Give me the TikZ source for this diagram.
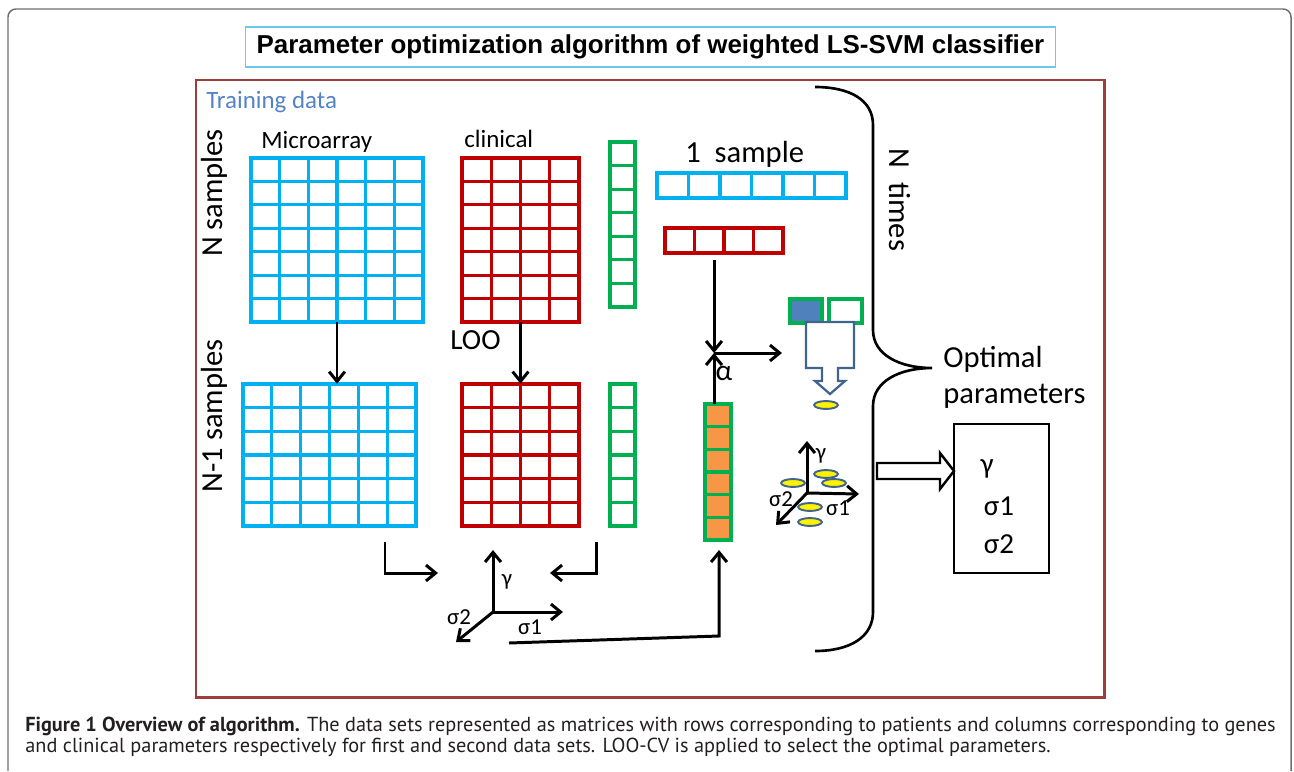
\documentclass[tikz,border=0pt]{standalone}
\usepackage{fontspec}
\setmainfont{Carlito}
\newfontfamily\titlefont{Liberation Sans}
\newfontfamily\capfont{PT Sans}
\usetikzlibrary{arrows.meta,fit,positioning,shapes.geometric}

\definecolor{frameGrey}{RGB}{110,110,110}
\definecolor{frameRed}{RGB}{158,62,60}
\definecolor{titleCyan}{RGB}{110,200,236}
\definecolor{matCyan}{RGB}{0,176,240}
\definecolor{matRed}{RGB}{192,0,0}
\definecolor{matGreen}{RGB}{0,176,80}
\definecolor{txtBlue}{RGB}{84,130,200}
\definecolor{cellBlue}{RGB}{79,129,189}
\definecolor{cellOrange}{RGB}{247,150,70}
\definecolor{edgeBlue}{RGB}{65,100,143}
\definecolor{capInk}{RGB}{35,31,32}

% name, colour, x0, y0, x1, y1, columns, rows
\newcommand{\matgrid}[8]{%
  \foreach \i in {0,...,#7}
    \draw[#2, gridline] ({#3+\i*(#5-#3)/#7},#4) -- ({#3+\i*(#5-#3)/#7},#6);
  \foreach \j in {0,...,#8}
    \draw[#2, gridline] (#3,{#4+\j*(#6-#4)/#8}) -- (#5,{#4+\j*(#6-#4)/#8});
  \node[fit={(#3,#4)(#5,#6)}, inner sep=0pt] (#1) {};
}

\begin{document}
\begin{tikzpicture}[x=0.02cm, y=-0.02cm,
  gridline/.style={line width=1.8pt, line cap=rect},
  arr/.style={line width=1.7pt, -{Straight Barb[length=5.5pt,width=9pt]}},
  big/.style={inner sep=0pt, font=\fontsize{17.4}{21}\selectfont},
  head/.style={inner sep=0pt, font=\fontsize{14.2}{17}\selectfont},
  axlbl/.style={inner sep=0pt, font=\fontsize{13}{15}\selectfont},
  dot/.style={ellipse, draw=edgeBlue, fill=yellow, line width=1.1pt,
    minimum width=13.5pt, minimum height=4.5pt, inner sep=0pt}]
\useasboundingbox (0,0) rectangle (1294,771);
\draw[frameGrey, line width=0.85pt, rounded corners=4.5pt] (8,771) -- (8,9) -- (1291,9) -- (1291,771);

\node[draw=titleCyan, line width=0.7pt, minimum width=460.9pt, minimum height=22.7pt,
  font=\titlefont\bfseries\fontsize{14.75}{17}\selectfont] (title) at (650.5,47) {Parameter optimization algorithm of weighted LS-SVM classifier};
\draw[frameRed, line width=1.7pt] (196,80) rectangle (1104,697);

\node[head, anchor=base west, text=txtBlue] (train) at (206,108) {Training data};
\node[head, anchor=base west] (micro) at (261,148) {Microarray};
\node[head, anchor=base west] (clin) at (464,147) {clinical};
\node[big, rotate=90] (nsamp) at (214,193) {N samples};
\node[big, rotate=90] (n1samp) at (214,416) {N-1 samples};
\node[big, anchor=base west, font=\fontsize{16.6}{20}\selectfont] (loo) at (450,349) {LOO};

\matgrid{maTop}{matCyan}{251}{158}{423}{322}{6}{7}
\matgrid{clTop}{matRed}{462}{158}{579}{322}{4}{7}
\matgrid{grTop}{matGreen}{610}{142}{635}{307}{1}{7}
\matgrid{maBot}{matCyan}{243}{384}{416}{526}{6}{6}
\matgrid{clBot}{matRed}{462}{384}{579}{526}{4}{6}
\matgrid{grBot}{matGreen}{610}{384}{635}{526}{1}{6}

\draw[arr] (maTop.south) -- (maTop.south |- maBot.north);
\draw[arr] (clTop.south) -- (clTop.south |- clBot.north);

\node[big, anchor=base west] (one) at (685,162) {1~~sample};
\matgrid{rowCyan}{matCyan}{657}{173}{846}{198}{6}{1}
\matgrid{rowRed}{matRed}{665}{228}{783}{253}{4}{1}
\fill[cellOrange] (705,404) rectangle (731,540);
\matgrid{alphaCol}{matGreen}{705}{404}{731}{540}{1}{6}

\coordinate (meet) at (714,353);
\coordinate (pick) at (782,353);
\draw[arr, shorten <=4pt] (rowRed.south -| meet) -- (meet);
\draw[arr] (alphaCol.north -| meet) -- (meet);
\draw[arr] (meet) -- (pick);
\node[big, font=\fontsize{16.7}{20}\selectfont] (alpha) at (724,373) {α};

\fill[cellBlue] (790,299) rectangle (822,323);
\matgrid{selA}{matGreen}{790}{299}{822}{323}{1}{1}
\matgrid{selB}{matGreen}{829}{299}{862}{323}{1}{1}
\filldraw[edgeBlue, fill=white, line width=1.3pt] (806,322) -- (854,322) -- (854,368) -- (838,368) -- (838,381)
  -- (845,381) -- (830,394) -- (815,381) -- (822,381) -- (822,368) -- (806,368) -- cycle;
\node[dot] (d0) at (826,405) {};

\draw[black, line width=1.5pt] (815,87) .. controls (850,87) and (873,100) .. (873,125) -- (873,330)
  .. controls (873,355) and (900,368) .. (932,368) .. controls (900,368) and (873,381) .. (873,406)
  -- (873,612) .. controls (873,637) and (850,651) .. (815,651);
\node[big, rotate=-90] (ntimes) at (900,200) {N~~times};
\node[big, anchor=base west] (optA) at (943,367) {Optimal};
\node[big, anchor=base west] (optB) at (943,403) {parameters};

\coordinate (o2) at (807,493);
\node[dot] (d1) at (826,474) {};
\node[dot] (d2) at (834,483) {};
\node[dot] (d3) at (793,483) {};
\node[dot] (d4) at (810,507) {};
\node[dot] (d5) at (810,522) {};
\draw[arr] (o2) -- ++(0,-52);
\draw[arr] (o2) -- ++(52,1);
\draw[arr] (o2) -- ++(-31,32);
\node[axlbl] (g2) at (821,456) {γ};
\node[axlbl] (s22) at (781,499) {σ2};
\node[axlbl] (s12) at (838,508) {σ1};

\node[draw, line width=1.5pt, fit={(954,424)(1049,573)}, inner sep=0pt] (optBox) {};
\node[big, font=\fontsize{16.5}{20}\selectfont] (gOpt) at (987,469) {γ};
\node[big, font=\fontsize{16.5}{20}\selectfont] (s1Opt) at (999,506) {σ1};
\node[big, font=\fontsize{16.5}{20}\selectfont] (s2Opt) at (999,544) {σ2};
\coordinate (push) at (954,471);
\draw[line width=1.4pt, line join=miter] (877,463) -- (940,463) -- (940,453) -- (push) -- (940,489)
  -- (940,479) -- (877,479) -- cycle;

\coordinate (gridL) at (385,542);
\coordinate (gridLend) at (438,573);
\coordinate (gridR) at (596,542);
\coordinate (gridRend) at (550,573);
\draw[arr] (gridL) |- (gridLend);
\draw[arr] (gridR) |- (gridRend);
\coordinate (o1) at (493,612);
\draw[arr] (o1) -- ++(0,-62);
\draw[arr] (o1) -- ++(70,0);
\draw[arr] (o1) -- ++(-37,30);
\node[axlbl] (g1) at (507,582) {γ};
\node[axlbl] (s21) at (459,617) {σ2};
\node[axlbl] (s11) at (530,627) {σ1};
\coordinate (sweep) at (509,643);
\coordinate (bend) at (719,636);
\draw[arr, shorten >=5.5pt] (sweep) -- (bend) -- (bend |- alphaCol.south);

\node[anchor=base west, inner sep=0pt, text=capInk, font=\capfont\fontsize{11.55}{13}\selectfont] (capA) at (25,731)
  {\textbf{Figure 1 Overview of algorithm.} The data sets represented as matrices with rows corresponding to patients and columns corresponding to genes};
\node[anchor=base west, inner sep=0pt, text=capInk, font=\capfont\fontsize{11.55}{13}\selectfont] (capB) at (25,752)
  {and clinical parameters respectively for first and second data sets. LOO-CV is applied to select the optimal parameters.};
\end{tikzpicture}
\end{document}
